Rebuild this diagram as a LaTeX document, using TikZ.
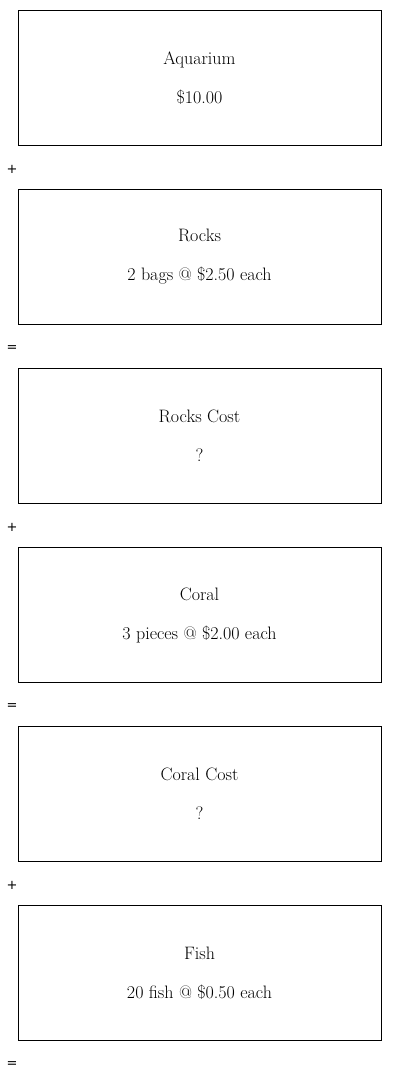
\documentclass[tikz,border=0pt]{standalone}
\usepackage{fontspec}
\newfontfamily\opfont{DejaVu Sans}
\usetikzlibrary{positioning}

\begin{document}
\begin{tikzpicture}[
            x=1pt,y=-1pt,
            item/.style={draw,rectangle,line width=1pt,minimum width=363pt,minimum height=135pt,
              align=center,font=\fontsize{18}{39}\selectfont},
            op/.style={font=\opfont\fontsize{13}{15}\selectfont,inner sep=0pt}
          ]
          \useasboundingbox (0,0) rectangle (400,1082);
          %boxes
          \node[item] (aquarium) at (199.5,78) {Aquarium\\\$10.00};
          \node[below = 43pt of aquarium,item] (rocks) {Rocks\\2 bags @ \$2.50 each};
          \node[below = 43pt of rocks,item] (rockscost) {Rocks Cost\\?};
          \node[below = 43pt of rockscost,item] (coral) {Coral\\3 pieces @ \$2.00 each};
          \node[below = 43pt of coral,item] (coralcost) {Coral Cost\\?};
          \node[below = 43pt of coralcost,item] (fish) {Fish\\20 fish @ \$0.50 each};

          %operators
          \node[op] (plus1) at (12,169) {+};
          \node[op] (eq1) at (12,349) {=};
          \node[op] (plus2) at (12,527) {+};
          \node[op] (eq2) at (12,707) {=};
          \node[op] (plus3) at (12,885) {+};
          \node[op] (eq3) at (12,1065) {=};
      \end{tikzpicture}
\end{document}
